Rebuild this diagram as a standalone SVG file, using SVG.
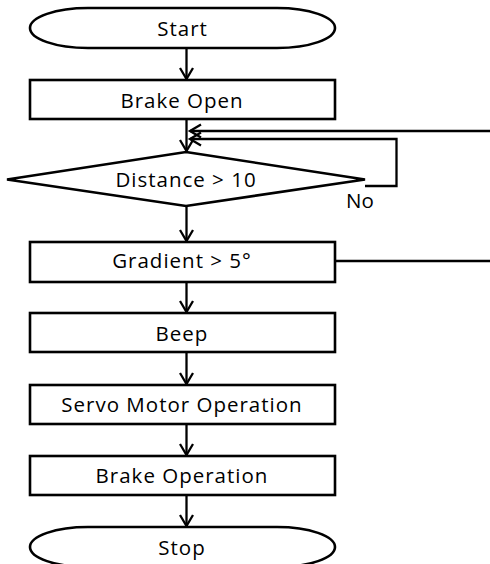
<svg xmlns="http://www.w3.org/2000/svg" width="490" height="564" viewBox="0 0 490 564">
<defs>
<style>
.s{fill:#fff;stroke:#000;stroke-width:2.6}
.t{font-family:"Open Sans","Noto Sans",sans-serif;font-size:20.5px;fill:#000;text-anchor:middle;letter-spacing:1px}
.c{fill:none;stroke:#000;stroke-width:2.3}
</style>
<marker id="a" markerUnits="userSpaceOnUse" markerWidth="18" markerHeight="18" viewBox="-13 -9 15 18" refX="0" refY="0" orient="auto">
<path d="M-11,-6.5 L0,0 L-11,6.5" fill="none" stroke="#000" stroke-width="2.3"/>
</marker>
</defs>
<rect width="490" height="564" fill="#fff"/>
<g id="connectors">
<path class="c" d="M186.5,48 V79" marker-end="url(#a)"/>
<path class="c" d="M186.5,119 V151" marker-end="url(#a)"/>
<path class="c" d="M186.5,206 V241" marker-end="url(#a)"/>
<path class="c" d="M186.5,282 V312" marker-end="url(#a)"/>
<path class="c" d="M186.5,352 V384" marker-end="url(#a)"/>
<path class="c" d="M186.5,424 V455" marker-end="url(#a)"/>
<path class="c" d="M186.5,495 V526" marker-end="url(#a)"/>
<path class="c" d="M490,131 H190" marker-end="url(#a)"/>
<path class="c" d="M365,186 H396.5 V139 H190" marker-end="url(#a)"/>
<path class="c" d="M335,261 H490"/>
<text class="t" x="360" y="208" style="letter-spacing:0">No</text>
</g>
<g id="start"><rect class="s" x="30" y="8" width="305" height="40" rx="58" ry="20"/><text class="t" x="182.5" y="36">Start</text></g>
<g id="brake-open"><rect class="s" x="30" y="80" width="305" height="39"/><text class="t" x="182" y="107.5">Brake Open</text></g>
<g id="distance"><polygon class="s" points="186,152 365,179.5 186,206 7,179.5"/><text class="t" x="186" y="187">Distance &gt; 10</text></g>
<g id="gradient"><rect class="s" x="30" y="242" width="305" height="40"/><text class="t" x="182" y="268">Gradient &gt; 5°</text></g>
<g id="beep"><rect class="s" x="30" y="313" width="305" height="39"/><text class="t" x="182" y="341">Beep</text></g>
<g id="servo"><rect class="s" x="30" y="385" width="305" height="39"/><text class="t" x="182" y="412">Servo Motor Operation</text></g>
<g id="brake-operation"><rect class="s" x="30" y="456" width="305" height="39"/><text class="t" x="182" y="483">Brake Operation</text></g>
<g id="stop"><rect class="s" x="30" y="527" width="305" height="40" rx="58" ry="20"/><text class="t" x="182" y="555">Stop</text></g>
</svg>
